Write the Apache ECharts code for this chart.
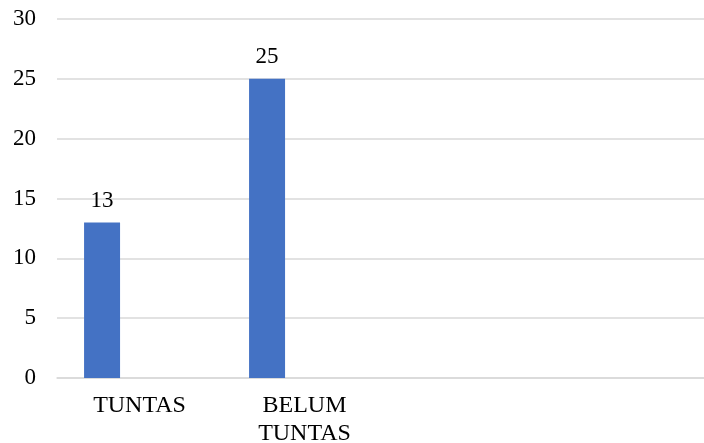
<!DOCTYPE html>
<html>
<head>
<meta charset="utf-8">
<script src="https://cdn.jsdelivr.net/npm/echarts@6/dist/echarts.min.js"></script>
<style>html,body{margin:0;padding:0;background:#fff;}#c{width:704px;height:443px;}</style>
</head>
<body>
<div id="c"></div>
<script>
var categories = ['TUNTAS', 'BELUM\nTUNTAS', '', ''];
var values = [13, 25, null, null];
var emptySeries = [null, null, null, null];
var yTicks = { min: 0, max: 30, interval: 5 };

var chart = echarts.init(document.getElementById('c'), null, { renderer: 'canvas' });
var font = '"Liberation Serif", "Times New Roman", serif';
chart.setOption({
  animation: false,
  grid: { left: 57, right: -13, top: 19, bottom: 65, containLabel: false, outerBoundsMode: 'none' },
  xAxis: {
    type: 'category',
    data: categories,
    axisTick: { show: false },
    axisLine: { lineStyle: { color: '#d9d9d9', width: 1.5 } },
    axisLabel: { color: '#000', fontFamily: font, fontSize: 24, lineHeight: 28, margin: 14, interval: 0 }
  },
  yAxis: {
    type: 'value',
    min: yTicks.min, max: yTicks.max, interval: yTicks.interval,
    axisLine: { show: false },
    axisTick: { show: false },
    splitLine: { lineStyle: { color: '#d9d9d9', width: 1.5 } },
    axisLabel: { color: '#000', fontFamily: font, fontSize: 23, margin: 21 }
  },
  series: [
    {
      type: 'bar', name: 'A', data: values, barWidth: 36, barGap: '108%',
      itemStyle: { color: '#4472C4' },
      label: { show: true, position: 'top', distance: 10, color: '#000', fontFamily: font, fontSize: 23 }
    },
    { type: 'bar', name: 'B', data: emptySeries, barWidth: 36 }
  ]
});
</script>
</body>
</html>
